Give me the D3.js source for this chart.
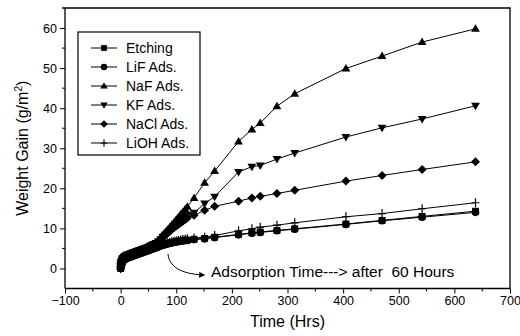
<!DOCTYPE html>
<html><head><meta charset="utf-8">
<script src="https://cdn.jsdelivr.net/npm/d3@7"></script>
<style>
html,body{margin:0;padding:0;background:#fff;}
svg{display:block;font-family:"Liberation Sans",Arial,Helvetica,sans-serif;}
</style></head>
<body><svg id="c" width="520" height="336"></svg>
<script>
// ---- data ----
const seriesNames = ["Etching","LiF Ads.","NaF Ads.","KF Ads.","NaCl Ads.","LiOH Ads."];
const tEarly = [0,0.5,1,2,3,4,6,8,10,12,14,16,18,20,22,24,26,28,30,32,34,36,38,40,42,44,46,48,50,52,54,56,58,60];
const earlyLow  = [0.0,0.5,0.9,1.3,1.6,1.9,2.2,2.4,2.6,2.7,2.8,2.9,3.0,3.1,3.2,3.3,3.4,3.5,3.6,3.7,3.8,3.9,4.0,4.1,4.2,4.3,4.4,4.5,4.6,4.7,4.8,4.9,5.0,5.1];
const earlyHigh = [0.5,1.2,1.6,2.0,2.3,2.6,2.9,3.1,3.3,3.4,3.5,3.6,3.7,3.8,3.9,4.0,4.1,4.2,4.3,4.4,4.5,4.6,4.7,4.8,4.9,5.0,5.1,5.2,5.35,5.5,5.65,5.8,5.95,6.1];
const tMid = [64,68,72,76,80,84,88,92,96,100,104,108,112,116,120];
const tLate = [132,151,169,212,236,251,281,313,405,470,542,638];

const etchingMid = [5.3,5.5,5.7,5.9,6.05,6.2,6.35,6.5,6.6,6.7,6.8,6.9,7.0,7.05,7.1];
const lifMid     = [5.2,5.4,5.6,5.8,5.95,6.1,6.25,6.4,6.5,6.6,6.7,6.8,6.9,6.95,7.0];
const nafMid     = [6.4,7.0,7.7,8.3,9.0,9.6,10.2,10.9,11.5,12.2,12.8,13.5,14.1,14.8,15.4];
const kfMid      = [6.3,6.8,7.3,7.9,8.4,8.9,9.4,9.9,10.4,10.9,11.4,11.9,12.4,12.9,13.4];
const naclMid    = [6.2,6.7,7.2,7.7,8.2,8.7,9.2,9.7,10.2,10.6,11.0,11.4,11.8,12.2,12.6];
const liohMid    = [5.4,5.6,5.8,6.0,6.2,6.35,6.5,6.65,6.8,6.9,7.0,7.1,7.2,7.3,7.4];

const etchingLate = [7.3,7.5,7.8,8.5,8.9,9.1,9.5,9.9,11.1,12.0,13.0,14.3];
const lifLate     = [7.2,7.4,7.7,8.4,8.8,9.0,9.4,9.8,11.0,11.9,12.8,14.0];
const nafLate     = [17.6,21.4,24.3,31.7,34.7,36.3,40.5,43.6,49.9,53.0,56.5,59.8];
const kfLate      = [13.9,16.2,17.9,24.1,25.4,25.7,27.3,28.8,32.8,35.1,37.3,40.6];
const naclLate    = [13.3,14.5,15.5,16.8,17.6,18.0,18.7,19.5,21.8,23.2,24.7,26.6];
const liohLate    = [7.6,7.8,8.2,9.4,9.9,10.3,10.8,11.4,12.9,13.7,14.9,16.4];

const xTicks = [-100,0,100,200,300,400,500,600,700];
const yTicks = [0,10,20,30,40,50,60];
const annotation = "Adsorption Time---> after  60 Hours";

// ---- build series ----
function build(early, mid, late){
  const pts = [];
  tEarly.forEach((t,i)=>pts.push([t, early[i]]));
  tMid.forEach((t,i)=>pts.push([t, mid[i]]));
  tLate.forEach((t,i)=>pts.push([t, late[i]]));
  return pts;
}
const series = [
  {name:seriesNames[0], sym:"square",  pts:build(earlyLow, etchingMid, etchingLate)},
  {name:seriesNames[1], sym:"circle",  pts:build(earlyLow, lifMid, lifLate)},
  {name:seriesNames[2], sym:"tri",     pts:build(earlyHigh, nafMid, nafLate)},
  {name:seriesNames[3], sym:"tridown", pts:build(earlyHigh, kfMid, kfLate)},
  {name:seriesNames[4], sym:"diamond", pts:build(earlyHigh, naclMid, naclLate)},
  {name:seriesNames[5], sym:"plus",    pts:build(earlyLow, liohMid, liohLate)}
];

// ---- scales ----
const L=65, R=510, T=8, B=288.5;
const x = d3.scaleLinear().domain([-100,700]).range([L,R]);
const y = d3.scaleLinear().domain([-5,65]).range([B,T]);
const svg = d3.select("#c");

function symPath(s){
  switch(s){
    case "square": return "M-3.4,-3.4H3.4V3.4H-3.4Z";
    case "circle": return d3.symbol(d3.symbolCircle, 46)();
    case "tri": return "M0,-4.5L4.4,3L-4.4,3Z";
    case "tridown": return "M0,4.5L4.4,-3L-4.4,-3Z";
    case "diamond": return "M0,-4.5L4.5,0L0,4.5L-4.5,0Z";
    case "plus": return "M-4,0H4M0,-4.5V4.5";
  }
}

// frame (top & right)
svg.append("path").attr("d",`M${L-3},${T}H${R}V${B}`).attr("fill","none").attr("stroke","#000").attr("stroke-width",1.3);

// axes
const xAxis = d3.axisBottom(x).tickValues(xTicks).tickSize(5).tickPadding(3).tickFormat(d3.format("d"));
const gx = svg.append("g").attr("transform",`translate(0,${B})`).call(xAxis);
const xMinor = d3.range(-50,700,100);
gx.selectAll(".minor").data(xMinor).enter().append("line").attr("class","minor")
  .attr("x1",d=>x(d)).attr("x2",d=>x(d)).attr("y1",0).attr("y2",3).attr("stroke","#000").attr("stroke-width",1);

const yAxis = d3.axisLeft(y).tickValues(yTicks).tickSize(5).tickPadding(3);
const gy = svg.append("g").attr("transform",`translate(${L},0)`).call(yAxis);
const yMinor = d3.range(5,65,10);
gy.selectAll(".minor").data(yMinor).enter().append("line").attr("class","minor")
  .attr("y1",d=>y(d)).attr("y2",d=>y(d)).attr("x1",0).attr("x2",-3).attr("stroke","#000").attr("stroke-width",1);

[gx,gy].forEach(g=>{
  g.select(".domain").attr("stroke","#000").attr("stroke-width",1.3);
  g.selectAll(".tick line").attr("stroke","#000").attr("stroke-width",1);
  g.selectAll(".tick text").attr("font-size",12.5).attr("fill","#000").attr("font-family","Liberation Sans, Arial, sans-serif");
});
gx.select(".domain").attr("d",`M${L},0H${R}`);
gy.select(".domain").attr("d",`M0,${B}V${T}`);

// axis titles
svg.append("text").attr("x",(L+R)/2).attr("y",327).attr("text-anchor","middle")
  .attr("font-size",16).text("Time (Hrs)");
const yt = svg.append("text").attr("transform",`translate(28,${(T+B)/2}) rotate(-90)`).attr("text-anchor","middle")
  .attr("font-size",16);
yt.append("tspan").text("Weight Gain (g/m");
yt.append("tspan").attr("font-size",10).attr("dy",-6).text("2");
yt.append("tspan").attr("dy",6).text(")");

// lines & markers
const line = d3.line().x(d=>x(d[0])).y(d=>y(d[1]));
series.forEach(s=>{
  svg.append("path").datum(s.pts).attr("d",line).attr("fill","none").attr("stroke","#000").attr("stroke-width",1);
});
series.forEach(s=>{
  const isPlus = s.sym==="plus";
  svg.append("g").selectAll("path").data(s.pts).enter().append("path")
    .attr("transform",d=>`translate(${x(d[0])},${y(d[1])})`)
    .attr("d",symPath(s.sym))
    .attr("fill",isPlus?"none":"#000")
    .attr("stroke","#000").attr("stroke-width",isPlus?1.2:0);
});

// legend
const lg = svg.append("g");
lg.append("rect").attr("x",78).attr("y",32).attr("width",122).attr("height",123)
  .attr("fill","#fff").attr("stroke","#000").attr("stroke-width",1.2);
series.forEach((s,i)=>{
  const cy = 48 + i*19;
  lg.append("line").attr("x1",91).attr("x2",117).attr("y1",cy).attr("y2",cy).attr("stroke","#000").attr("stroke-width",1);
  lg.append("path").attr("transform",`translate(104,${cy}) scale(0.85)`).attr("d",symPath(s.sym))
    .attr("fill",s.sym==="plus"?"none":"#000").attr("stroke","#000").attr("stroke-width",s.sym==="plus"?1.3:0);
  lg.append("text").attr("x",126).attr("y",cy+5).attr("font-size",14).text(s.name);
});

// annotation
svg.append("defs").append("marker").attr("id","ah").attr("viewBox","0 0 10 10").attr("refX",8).attr("refY",5)
  .attr("markerWidth",6).attr("markerHeight",6).attr("orient","auto")
  .append("path").attr("d","M0,0L10,5L0,10Z").attr("fill","#000");
svg.append("path").attr("d","M168,254 C169,266 180,274 204,275").attr("fill","none").attr("stroke","#000")
  .attr("stroke-width",1).attr("marker-end","url(#ah)");
svg.append("text").attr("x",211).attr("y",277).attr("font-size",15.5).style("white-space","pre").text(annotation);
</script></body></html>
